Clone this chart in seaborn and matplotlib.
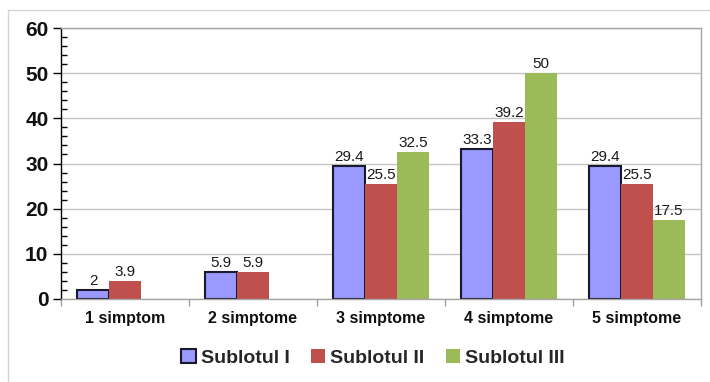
import numpy as np
import pandas as pd
import matplotlib
matplotlib.use("Agg")
import matplotlib.pyplot as plt
from matplotlib.patches import Patch
from matplotlib.lines import Line2D
from matplotlib.ticker import MultipleLocator, FixedLocator
import seaborn as sns

categories = ["1 simptom", "2 simptome", "3 simptome", "4 simptome", "5 simptome"]
groups = ["Sublotul I", "Sublotul II", "Sublotul III"]
sublot_1 = [2, 5.9, 29.4, 33.3, 29.4]
sublot_2 = [3.9, 5.9, 25.5, 39.2, 25.5]
sublot_3 = [None, None, 32.5, 50, 17.5]
colors = ["#9999FF", "#C0504D", "#9BBB59"]

rows = []
for g, vals in zip(groups, [sublot_1, sublot_2, sublot_3]):
    for c, v in zip(categories, vals):
        if v is not None:
            rows.append({"cat": c, "val": v, "grp": g})
df = pd.DataFrame(rows)

sns.set_style("white")
plt.rcParams["font.family"] = ["Liberation Sans", "DejaVu Sans"]

fig = plt.figure(figsize=(7.1, 3.82), dpi=100)
ax = fig.add_axes([61 / 710, 83 / 382, 640 / 710, 271 / 382])

sns.barplot(data=df, x="cat", y="val", hue="grp", order=categories,
            hue_order=groups, palette=colors, saturation=1, width=0.75,
            dodge=True, errorbar=None, legend=False, ax=ax, linewidth=0)

# dark outline on the first series
for bar in ax.containers[0]:
    bar.set_edgecolor("#1a1a2e")
    bar.set_linewidth(1.5)

# value labels above bars
for cont in ax.containers:
    labels = [f"{b.get_height():g}" for b in cont]
    ax.bar_label(cont, labels=labels, padding=1.5, fontsize=11,
                 color="#1a1a1a", fontweight="medium")

ax.set_xlim(-0.5, len(categories) - 0.5)
ax.set_ylim(0, 60)
ax.set_xlabel("")
ax.set_ylabel("")

ax.yaxis.set_major_locator(MultipleLocator(10))
ax.yaxis.set_minor_locator(MultipleLocator(2))
ax.xaxis.set_minor_locator(FixedLocator(np.arange(-0.5, len(categories), 1.0)))

ax.grid(axis="y", which="major", color="#c4c4c4", linewidth=1)
ax.grid(axis="x", visible=False)
ax.set_axisbelow(True)

ax.tick_params(axis="y", which="major", direction="out", length=6, width=1,
               color="black", labelsize=15, pad=3, left=True)
ax.tick_params(axis="y", which="minor", direction="in", length=4, width=1,
               color="black", left=True)
ax.tick_params(axis="x", which="major", length=0, labelsize=11.5, pad=9)
ax.tick_params(axis="x", which="minor", direction="out", length=5, width=1,
               color="#a0a0a0", bottom=True)
for lab in ax.get_yticklabels() + ax.get_xticklabels():
    lab.set_fontweight("bold")
    lab.set_color("#111111")

for side in ["top", "right", "bottom"]:
    ax.spines[side].set_visible(True)
    ax.spines[side].set_color("#a6a6a6")
    ax.spines[side].set_linewidth(1)
ax.spines["left"].set_color("black")
ax.spines["left"].set_linewidth(1)

handles = [Patch(facecolor=colors[0], edgecolor="#1a1a2e", linewidth=1.5),
           Patch(facecolor=colors[1], edgecolor="none"),
           Patch(facecolor=colors[2], edgecolor="none")]
fig.legend(handles, groups, loc="center", bbox_to_anchor=(373 / 710, 24 / 382),
           ncol=3, frameon=False, handlelength=0.75, handleheight=0.75,
           handletextpad=0.25, columnspacing=1.1,
           prop={"weight": "bold", "size": 14})

# light outer frame
fig.add_artist(Line2D([8 / 710, 8 / 710], [0, 372 / 382], transform=fig.transFigure,
                      color="#d4d4d4", linewidth=1))
fig.add_artist(Line2D([8 / 710, 1], [372 / 382, 372 / 382], transform=fig.transFigure,
                      color="#d4d4d4", linewidth=1))

fig.savefig("out.png", dpi=100)
